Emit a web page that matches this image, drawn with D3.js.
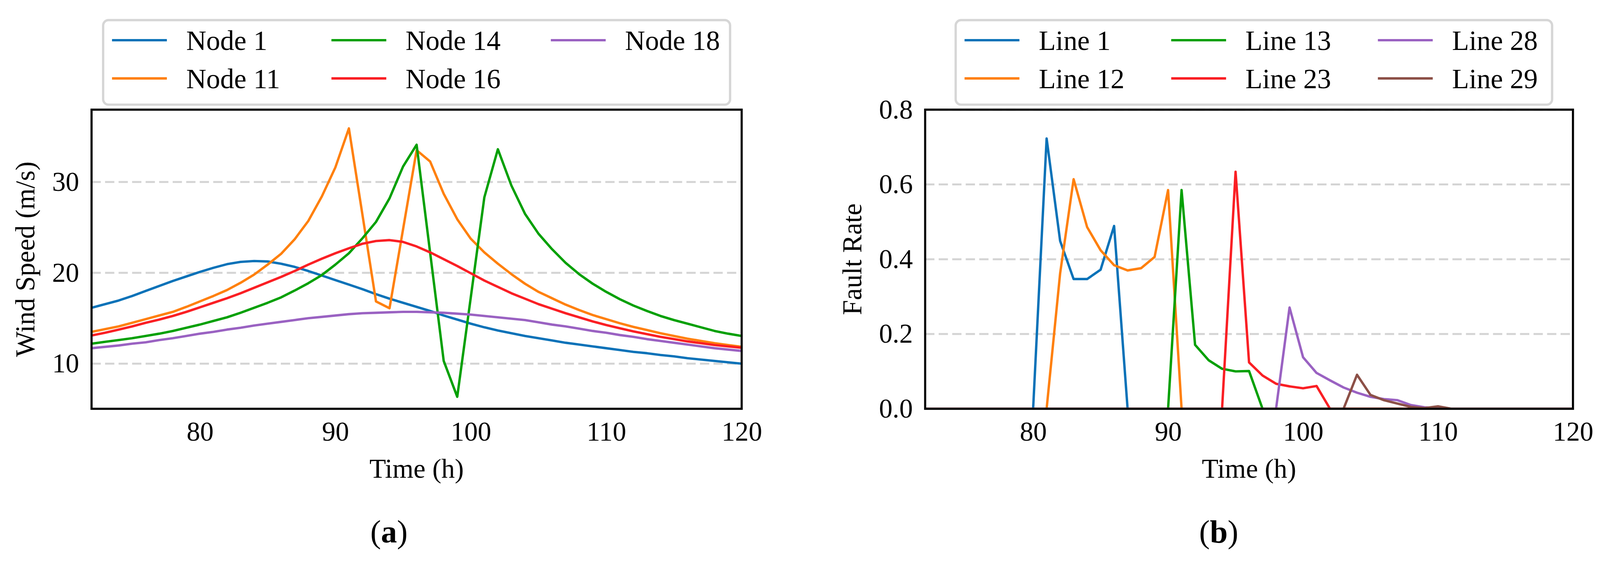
<!DOCTYPE html>
<html>
<head>
<meta charset="utf-8">
<script src="https://cdn.jsdelivr.net/npm/d3@7"></script>
<style>
  html, body { margin: 0; padding: 0; overflow: hidden; background: #fff; }
  #chart svg { display: block; width: 100vw; height: 100vh; }
  #chart text { font-family: 'Liberation Serif', 'DejaVu Serif', serif; fill: #000; }
</style>
</head>
<body>
<div id="chart"></div>
<script>
/*global d3 */

// hourly time stamps shared by both panels
var hours = [72, 73, 74, 75, 76, 77, 78, 79, 80, 81, 82, 83, 84, 85, 86, 87, 88, 89, 90, 91,
  92, 93, 94, 95, 96, 97, 98, 99, 100, 101, 102, 103, 104, 105, 106, 107, 108, 109, 110,
  111, 112, 113, 114, 115, 116, 117, 118, 119, 120];
var timeTicks = [80, 90, 100, 110, 120];

// (a) wind speed per node, m/s
var windNames = ['Node 1', 'Node 11', 'Node 14', 'Node 16', 'Node 18'];
var node1 = [16.15, 16.55, 16.95, 17.45, 18.0, 18.55, 19.1, 19.6, 20.1, 20.55, 20.95, 21.2, 21.3,
  21.25, 21.0, 20.65, 20.2, 19.7, 19.2, 18.7, 18.2, 17.65, 17.15, 16.7, 16.25, 15.8, 15.3, 14.85,
  14.4, 14.0, 13.65, 13.35, 13.05, 12.8, 12.55, 12.3, 12.1, 11.9, 11.7, 11.5, 11.3, 11.15, 10.95,
  10.8, 10.6, 10.45, 10.3, 10.15, 10.0];
var node11 = [13.5, 13.8, 14.1, 14.5, 14.9, 15.3, 15.7, 16.25, 16.85, 17.45, 18.1, 18.9, 19.8,
  20.9, 22.1, 23.7, 25.7, 28.4, 31.6, 35.9, 26.4, 16.85, 16.1, 24.8, 33.5, 32.25, 28.7, 25.9,
  23.75, 22.25, 21.0, 19.85, 18.8, 17.9, 17.2, 16.5, 15.9, 15.35, 14.9, 14.45, 14.05, 13.7, 13.35,
  13.05, 12.75, 12.5, 12.25, 12.05, 11.85];
var node14 = [12.2, 12.4, 12.6, 12.8, 13.05, 13.3, 13.6, 13.95, 14.3, 14.7, 15.1, 15.6, 16.15,
  16.7, 17.3, 18.05, 18.85, 19.75, 20.9, 22.15, 23.8, 25.6, 28.2, 31.7, 34.1, 22.2, 10.3, 6.35,
  17.3, 28.3, 33.6, 29.6, 26.5, 24.3, 22.6, 21.1, 19.85, 18.8, 17.9, 17.1, 16.4, 15.8, 15.25,
  14.8, 14.4, 14.0, 13.6, 13.3, 13.05];
var node16 = [13.1, 13.4, 13.75, 14.1, 14.5, 14.85, 15.25, 15.7, 16.2, 16.7, 17.2, 17.75, 18.35,
  18.95, 19.55, 20.2, 20.9, 21.55, 22.15, 22.7, 23.2, 23.5, 23.6, 23.4, 22.9, 22.25, 21.5, 20.75,
  19.95, 19.15, 18.45, 17.75, 17.15, 16.55, 16.05, 15.55, 15.1, 14.65, 14.25, 13.9, 13.55, 13.25,
  12.95, 12.7, 12.45, 12.25, 12.05, 11.9, 11.75];
var node18 = [11.7, 11.85, 12.0, 12.2, 12.35, 12.6, 12.8, 13.05, 13.3, 13.5, 13.75, 13.95, 14.2,
  14.4, 14.6, 14.8, 15.0, 15.15, 15.3, 15.45, 15.55, 15.6, 15.65, 15.7, 15.7, 15.65, 15.6, 15.5,
  15.4, 15.25, 15.1, 14.95, 14.8, 14.55, 14.3, 14.1, 13.85, 13.6, 13.4, 13.15, 12.95, 12.7, 12.5,
  12.3, 12.1, 11.9, 11.7, 11.55, 11.4];
var windTicks = [10, 20, 30];

// (b) fault rate per line
var faultNames = ['Line 1', 'Line 12', 'Line 13', 'Line 23', 'Line 28', 'Line 29'];
var line1 = [0, 0, 0, 0, 0, 0, 0, 0, 0, 0.723, 0.449, 0.347, 0.347, 0.372, 0.489, 0,
  0, 0, 0, 0, 0, 0, 0, 0, 0, 0, 0, 0, 0, 0, 0, 0, 0, 0, 0, 0, 0, 0, 0, 0, 0, 0, 0, 0, 0, 0, 0, 0, 0];
var line12 = [0, 0, 0, 0, 0, 0, 0, 0, 0, 0, 0.362, 0.614, 0.486, 0.424, 0.384, 0.370, 0.376,
  0.406, 0.585, 0, 0, 0, 0, 0, 0, 0, 0, 0, 0, 0, 0, 0, 0, 0, 0, 0, 0, 0, 0, 0, 0, 0, 0, 0, 0, 0, 0, 0, 0];
var line13 = [0, 0, 0, 0, 0, 0, 0, 0, 0, 0, 0, 0, 0, 0, 0, 0, 0, 0, 0, 0.585, 0.171, 0.130,
  0.107, 0.100, 0.101, 0, 0, 0, 0, 0, 0, 0, 0, 0, 0, 0, 0, 0, 0, 0, 0, 0, 0, 0, 0, 0, 0, 0, 0];
var line23 = [0, 0, 0, 0, 0, 0, 0, 0, 0, 0, 0, 0, 0, 0, 0, 0, 0, 0, 0, 0, 0, 0, 0, 0.634,
  0.124, 0.089, 0.067, 0.060, 0.055, 0.061, 0, 0, 0, 0, 0, 0, 0, 0, 0, 0, 0, 0, 0, 0, 0, 0, 0, 0, 0];
var line28 = [0, 0, 0, 0, 0, 0, 0, 0, 0, 0, 0, 0, 0, 0, 0, 0, 0, 0, 0, 0, 0, 0, 0, 0, 0, 0, 0,
  0.271, 0.138, 0.096, 0.076, 0.057, 0.043, 0.032, 0.026, 0.023, 0.010, 0.004, 0.002,
  0, 0, 0, 0, 0, 0, 0, 0, 0, 0];
var line29 = [0, 0, 0, 0, 0, 0, 0, 0, 0, 0, 0, 0, 0, 0, 0, 0, 0, 0, 0, 0, 0, 0, 0, 0, 0, 0, 0,
  0, 0, 0, 0, 0, 0.091, 0.037, 0.023, 0.014, 0.005, 0.002, 0.0065, 0, 0, 0, 0, 0, 0, 0, 0, 0, 0];
var faultTicks = [0, 0.2, 0.4, 0.6, 0.8];

var palette = ['#0a72b8', '#ff800e', '#04a004', '#fa1f24', '#9a62c2', '#8c5047'];

var frame = { width: 4142, height: 1445 },
  plotTop = 276,
  plotHeight = 775,
  fontSize = 70;

// scale to whatever the window really gives, so nothing at the edges gets cut
var svg = d3.select('#chart').append('svg')
  .attr('viewBox', '0 0 ' + frame.width + ' ' + frame.height)
  .attr('preserveAspectRatio', 'xMidYMid meet');

svg.append('rect')
  .attr('width', frame.width)
  .attr('height', frame.height)
  .attr('fill', '#fff');

function drawPanel(opts) {
  var width = opts.right - opts.left;

  var x = d3.scaleLinear()
    .domain([72, 120])
    .range([0, width]);

  var y = d3.scaleLinear()
    .domain(opts.yDomain)
    .range([plotHeight, 0]);

  var g = svg.append('g')
    .attr('transform', 'translate(' + opts.left + ',' + plotTop + ')');

  g.append('clipPath')
    .attr('id', opts.id + '-clip')
    .append('rect')
    .attr('width', width)
    .attr('height', plotHeight);

  //dashed horizontal grid
  g.append('g')
    .selectAll('line')
    .data(opts.yTicks)
    .join('line')
    .attr('x1', 0)
    .attr('x2', width)
    .attr('y1', function (d) { return y(d); })
    .attr('y2', function (d) { return y(d); })
    .attr('stroke', '#d4d4d4')
    .attr('stroke-width', 5)
    .attr('stroke-dasharray', '24,11');

  var line = d3.line()
    .x(function (d, i) { return x(hours[i]); })
    .y(function (d) { return y(d); });

  //plot series
  g.append('g')
    .attr('clip-path', 'url(#' + opts.id + '-clip)')
    .selectAll('path')
    .data(opts.series)
    .join('path')
    .attr('d', line)
    .attr('fill', 'none')
    .attr('stroke', function (d, i) { return palette[i]; })
    .attr('stroke-width', 6.2)
    .attr('stroke-linejoin', 'round');

  //axes, labels only
  var xAxis = g.append('g')
    .attr('transform', 'translate(0,' + plotHeight + ')')
    .call(d3.axisBottom(x).tickValues(timeTicks).tickSize(0).tickPadding(33));
  var yAxis = g.append('g')
    .call(d3.axisLeft(y).tickValues(opts.yTicks).tickSize(0).tickPadding(32).tickFormat(opts.format));
  [xAxis, yAxis].forEach(function (a) {
    a.select('.domain').remove();
    a.selectAll('text').attr('font-size', fontSize).attr('fill', '#000');
    a.attr('font-family', null);
  });

  //plot frame
  g.append('rect')
    .attr('width', width)
    .attr('height', plotHeight)
    .attr('fill', 'none')
    .attr('stroke', '#000')
    .attr('stroke-width', 5.5);

  g.append('text')
    .attr('x', width / 2)
    .attr('y', 1230 - plotTop)
    .attr('text-anchor', 'middle')
    .attr('font-size', fontSize)
    .text('Time (h)');

  g.append('text')
    .attr('transform', 'translate(' + opts.yLabelX + ',' + (plotHeight / 2) + ') rotate(-90)')
    .attr('text-anchor', 'middle')
    .attr('font-size', fontSize)
    .text(opts.yLabel);

  //legend, two rows filled column by column
  var legend = svg.append('g')
    .attr('transform', 'translate(' + opts.legendLeft + ',44)');
  legend.append('rect')
    .attr('width', opts.legendWidth)
    .attr('height', 219)
    .attr('rx', 14)
    .attr('fill', '#fff')
    .attr('stroke', '#d6d6d6')
    .attr('stroke-width', 6);
  var item = legend.selectAll('g.item')
    .data(opts.names)
    .join('g')
    .attr('class', 'item')
    .attr('transform', function (d, i) {
      return 'translate(' + (23 + Math.floor(i / 2) * opts.colStep) + ',' + (52 + (i % 2) * 99) + ')';
    });
  item.append('line')
    .attr('x2', 142)
    .attr('stroke', function (d, i) { return palette[i]; })
    .attr('stroke-width', 6.2);
  item.append('text')
    .attr('x', 192)
    .attr('dy', '0.35em')
    .attr('font-size', 72)
    .text(function (d) { return d; });

  //sub-figure caption
  var cap = svg.append('text')
    .attr('x', opts.captionX)
    .attr('y', 1398)
    .attr('text-anchor', 'middle')
    .attr('font-size', 83);
  cap.append('tspan').text('(');
  cap.append('tspan').attr('font-weight', 'bold').text(opts.caption);
  cap.append('tspan').text(')');
}

drawPanel({
  id: 'wind',
  left: 237,
  right: 1920,
  yDomain: [5.03, 37.96],
  yTicks: windTicks,
  format: d3.format('d'),
  series: [node1, node11, node14, node16, node18],
  names: windNames,
  yLabel: 'Wind Speed (m/s)',
  yLabelX: -148,
  legendLeft: 267,
  legendWidth: 1623,
  colStep: 568,
  caption: 'a',
  captionX: 1007
});

drawPanel({
  id: 'fault',
  left: 2395,
  right: 4072,
  yDomain: [0, 0.8],
  yTicks: faultTicks,
  format: d3.format('.1f'),
  series: [line1, line12, line13, line23, line28, line29],
  names: faultNames,
  yLabel: 'Fault Rate',
  yLabelX: -165,
  legendLeft: 2474,
  legendWidth: 1544,
  colStep: 535,
  caption: 'b',
  captionX: 3155
});
</script>
</body>
</html>
